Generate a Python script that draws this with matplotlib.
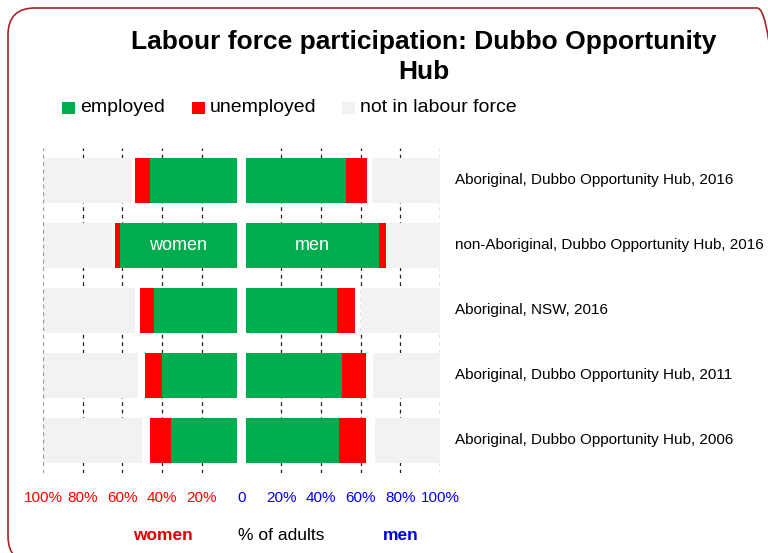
import matplotlib
matplotlib.use("Agg")
import matplotlib.pyplot as plt
from matplotlib.patches import FancyBboxPatch, Rectangle
import numpy as np

plt.rcParams['font.family'] = ['Liberation Sans', 'DejaVu Sans']

# ---- data (percent of adults) ----
rows = ["Aboriginal, Dubbo Opportunity Hub, 2016",
        "non-Aboriginal, Dubbo Opportunity Hub, 2016",
        "Aboriginal, NSW, 2016",
        "Aboriginal, Dubbo Opportunity Hub, 2011",
        "Aboriginal, Dubbo Opportunity Hub, 2006"]
women_employed = [44.6, 60.4, 42.7, 38.4, 34.1]
women_unemployed = [7.9, 2.6, 7.2, 9.0, 10.5]
women_nilf = [45.3, 35.8, 47.3, 48.9, 51.3]
men_employed = [51.3, 68.8, 46.8, 49.6, 47.7]
men_unemployed = [11.2, 3.3, 9.6, 12.4, 14.3]
men_nilf = [35.1, 27.5, 40.9, 34.6, 33.4]
tick_vals = [-100, -80, -60, -40, -20, 0, 20, 40, 60, 80, 100]
tick_labels = ["100%", "80%", "60%", "40%", "20%", "0", "20%", "40%", "60%", "80%", "100%"]

GREEN = "#00AD4E"
RED = "#FF0000"
GREY = "#F2F2F2"

W, H = 768, 553
fig = plt.figure(figsize=(W / 100, H / 100), dpi=100)

# rounded border
border = FancyBboxPatch((8 / W, -10 / H), (784 - 8) / W, (553 - 8 + 10) / H,
                        boxstyle="round,pad=0,rounding_size=0.035",
                        transform=fig.transFigure, facecolor="none",
                        edgecolor="#A52424", linewidth=1.2, zorder=-1,
                        mutation_aspect=W / H)
fig.patches.append(border)

ax = fig.add_axes([43 / W, (H - 473) / H, (440 - 43) / W, (473 - 148) / H])
ax.set_facecolor("none")

gap = 2.3
k = (100 - gap) / 100.0
y = np.arange(len(rows))
h = 0.68

we = np.array(women_employed) * k
wu = np.array(women_unemployed) * k
wn = np.array(women_nilf) * k
me = np.array(men_employed) * k
mu = np.array(men_unemployed) * k
mn = np.array(men_nilf) * k

# grid lines
for t in tick_vals:
    if t == 0:
        continue
    col = "#999999" if t == -100 else "#222222"
    ax.axvline(t, color=col, linestyle=(0, (3, 3)), linewidth=0.9,
               zorder=3 if t == -100 else 0.5)

# women (left)
ax.barh(y, -we, left=-gap, height=h, color=GREEN, zorder=2)
ax.barh(y, -wu, left=-gap - we, height=h, color=RED, zorder=2)
ax.barh(y, wn, left=-100, height=h, color=GREY, zorder=2)
# men (right)
ax.barh(y, me, left=gap, height=h, color=GREEN, zorder=2)
ax.barh(y, mu, left=gap + me, height=h, color=RED, zorder=2)
ax.barh(y, -mn, left=100, height=h, color=GREY, zorder=2)

# labels inside second row
ax.text(-gap - we[1] / 2, 1, "women", color="white", ha="center", va="center",
        fontsize=13, zorder=4)
ax.text(gap + me[1] / 2, 1, "men", color="white", ha="center", va="center",
        fontsize=13, zorder=4)

ax.set_xlim(-100, 100)
ax.set_ylim(len(rows) - 0.5, -0.5)
for s in ax.spines.values():
    s.set_visible(False)
ax.set_yticks([])
ax.set_xticks(tick_vals)
ax.set_xticklabels(tick_labels, fontsize=11)
for lbl, t in zip(ax.get_xticklabels(), tick_vals):
    lbl.set_color(RED if t < 0 else "#0000FF")
ax.tick_params(axis="x", length=0, pad=13)

# row labels on the right
for i, r in enumerate(rows):
    fig.text(455 / W, 1 - (180 + 65 * i) / H, r, fontsize=11, ha="left",
             va="center")

# title
fig.text(424 / W, 1 - 42 / H, "Labour force participation: Dubbo Opportunity",
         fontsize=19, fontweight="bold", ha="center", va="center")
fig.text(424 / W, 1 - 72 / H, "Hub", fontsize=19, fontweight="bold",
         ha="center", va="center")

# legend
leg = [(62, GREEN, "employed"), (192, RED, "unemployed"), (342, GREY, "not in labour force")]
for x0, c, lab in leg:
    fig.patches.append(Rectangle((x0 / W, 1 - 114 / H), 13 / W, 12 / H,
                                 transform=fig.transFigure, facecolor=c,
                                 edgecolor="none"))
    fig.text((x0 + 18) / W, 1 - 107 / H, lab, fontsize=14, ha="left", va="center")

# bottom axis labels
fig.text(163 / W, 1 - 535 / H, "women", color="#E00000", fontsize=12.5,
         fontweight="bold", ha="center", va="center")
fig.text(281 / W, 1 - 535 / H, "% of adults", color="black", fontsize=12.5,
         ha="center", va="center")
fig.text(401 / W, 1 - 535 / H, "men", color="#0000DD", fontsize=12.5,
         fontweight="bold", ha="center", va="center")

fig.savefig("out.png", dpi=100)
